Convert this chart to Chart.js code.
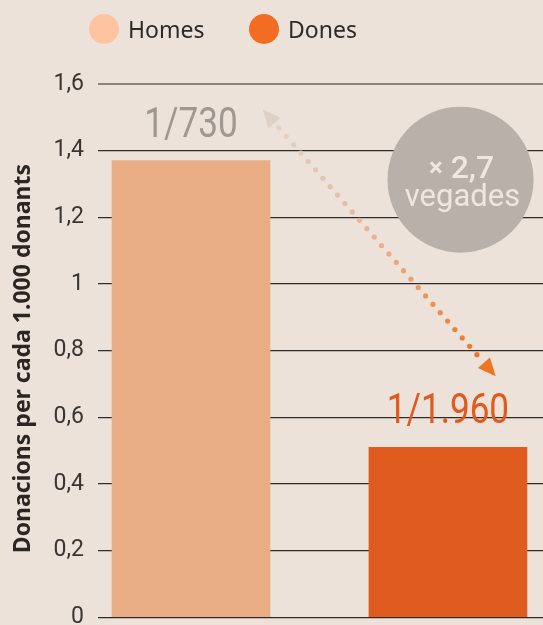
<!DOCTYPE html>
<html>
<head>
<meta charset="utf-8">
<script src="https://cdn.jsdelivr.net/npm/chart.js@4/dist/chart.umd.min.js"></script>
<style>
  html, body { margin: 0; padding: 0; background: #ede2d9; overflow: hidden; width: 543px; height: 625px; }
  #wrap { position: relative; width: 543px; height: 645px; }
  canvas { display: block; }
  #legend { position: absolute; left: 0; top: 0; width: 543px; height: 60px; font-family: 'Noto Sans', sans-serif; font-size: 23px; color: #2d2a28; }
  .item { position: absolute; top: 14px; display: flex; align-items: center; height: 30px; }
  .dot { width: 30px; height: 30px; border-radius: 50%; margin-right: 9px; }
</style>
</head>
<body>
<div id="wrap">
  <canvas id="chart" width="543" height="645"></canvas>
  <div id="legend"></div>
</div>
<script>
// ---- data ----
const categories = ['Homes', 'Dones'];
const donationsPer1000 = [1.37, 0.51];
const ratioLabels = ['1/730', '1/1.960'];
const yTickValues = [0, 0.2, 0.4, 0.6, 0.8, 1, 1.2, 1.4, 1.6];
const yTickLabels = ['0', '0,2', '0,4', '0,6', '0,8', '1', '1,2', '1,4', '1,6'];
const axisTitle = 'Donacions per cada 1.000 donants';
const multiplierLines = ['× 2,7', 'vegades'];

// ---- styles ----
const style = {
  barColors: ['#e9ad86', '#e05c1e'],
  legendColors: ['#fdc49f', '#f26c22'],
  labelColors: ['#9f9791', '#e0591d'],
  legendLeft: [89, 249],
  arrow: { from: { x: 0.279, y: 1.524 }, to: { x: 1.186, y: 0.723 } },
  bubble: { x: 1.049, y: 1.313, r: 73, color: '#b8b0a9', text: '#efe6de' },
  titleShift: 8
};

// HTML legend built from the data
const legendEl = document.getElementById('legend');
categories.forEach((name, i) => {
  const it = document.createElement('div');
  it.className = 'item';
  it.style.left = style.legendLeft[i] + 'px';
  const d = document.createElement('span');
  d.className = 'dot';
  d.style.background = style.legendColors[i];
  const t = document.createElement('span');
  t.textContent = name;
  it.appendChild(d); it.appendChild(t);
  legendEl.appendChild(it);
});

const annotations = {
  id: 'annotations',
  afterDatasetsDraw(chart) {
    const ctx = chart.ctx;
    const xs = chart.scales.x, ys = chart.scales.y;
    ctx.save();
    // value labels above bars (condensed Roboto)
    chart.data.datasets.forEach((ds, i) => {
      const bar = chart.getDatasetMeta(i).data[0];
      ctx.save();
      ctx.translate(bar.x, bar.y - 24);
      ctx.scale(0.835, 1);
      ctx.font = "42px Roboto, sans-serif";
      ctx.fillStyle = style.labelColors[i];
      ctx.textAlign = 'center';
      ctx.textBaseline = 'alphabetic';
      ctx.fillText(ratioLabels[i], 0, 0);
      ctx.restore();
    });
    // dotted arrow
    const p1 = { x: xs.getPixelForValue(style.arrow.from.x), y: ys.getPixelForValue(style.arrow.from.y) };
    const p2 = { x: xs.getPixelForValue(style.arrow.to.x), y: ys.getPixelForValue(style.arrow.to.y) };
    const dx = p2.x - p1.x, dy = p2.y - p1.y;
    const len = Math.hypot(dx, dy);
    const ux = dx / len, uy = dy / len;
    const s = { x: p1.x + ux * 24.6, y: p1.y + uy * 24.6 };
    const e = { x: p2.x - ux * 28.6, y: p2.y - uy * 28.6 };
    const grad = ctx.createLinearGradient(s.x, s.y, e.x, e.y);
    grad.addColorStop(0, '#e2d2c4');
    grad.addColorStop(0.5, '#eab28c');
    grad.addColorStop(1, '#ef7526');
    const segLen = Math.hypot(e.x - s.x, e.y - s.y);
    const n = Math.round(segLen / 11.2);
    ctx.fillStyle = grad;
    for (let k = 0; k <= n; k++) {
      const t = k / n;
      ctx.beginPath();
      ctx.arc(s.x + (e.x - s.x) * t, s.y + (e.y - s.y) * t, 2.6, 0, Math.PI * 2);
      ctx.fill();
    }
    const head = (tip, dirx, diry, color) => {
      const L = 18, W = 8;
      const bx = tip.x - dirx * L, by = tip.y - diry * L;
      ctx.beginPath();
      ctx.moveTo(tip.x, tip.y);
      ctx.lineTo(bx - diry * W, by + dirx * W);
      ctx.lineTo(bx + diry * W, by - dirx * W);
      ctx.closePath();
      ctx.fillStyle = color;
      ctx.fill();
    };
    head(p1, -ux, -uy, '#ddd0c4');
    head(p2, ux, uy, '#ee7424');
    // bubble
    const cx = xs.getPixelForValue(style.bubble.x), cy = ys.getPixelForValue(style.bubble.y);
    ctx.beginPath();
    ctx.arc(cx, cy, style.bubble.r, 0, Math.PI * 2);
    ctx.fillStyle = style.bubble.color;
    ctx.fill();
    ctx.fillStyle = style.bubble.text;
    ctx.textBaseline = 'alphabetic';
    // line 1: "× 2,7"
    const mult = multiplierLines[0].slice(0, 1), num = multiplierLines[0].slice(1);
    ctx.font = "bold 26px Roboto, sans-serif";
    const w1 = ctx.measureText(mult).width;
    ctx.font = "500 32px Roboto, sans-serif";
    const w2 = ctx.measureText(num).width;
    const x0 = cx + 1 - (w1 + w2) / 2;
    ctx.textAlign = 'left';
    ctx.font = "bold 26px Roboto, sans-serif";
    ctx.fillText(mult, x0, cy - 4);
    ctx.font = "500 32px Roboto, sans-serif";
    ctx.fillText(num, x0 + w1, cy - 2);
    ctx.textAlign = 'center';
    ctx.font = "31px Roboto, sans-serif";
    ctx.fillText(multiplierLines[1], cx + 2, cy + 26);
    ctx.restore();
  }
};

new Chart(document.getElementById('chart'), {
  type: 'bar',
  data: {
    datasets: categories.map((name, i) => ({
      label: name,
      data: [{ x: i, y: donationsPer1000[i] }],
      backgroundColor: style.barColors[i],
      barThickness: 158,
      grouped: false
    }))
  },
  options: {
    responsive: false,
    animation: false,
    devicePixelRatio: 1,
    layout: { padding: { top: 84, bottom: 26, left: 0, right: 0 } },
    plugins: { legend: { display: false }, tooltip: { enabled: false } },
    scales: {
      x: { type: 'linear', display: false, offset: false, min: -0.362, max: 1.37 },
      y: {
        min: 0, max: 1.6,
        afterBuildTicks: (sc) => { sc.ticks = yTickValues.map(v => ({ value: v })); },
        afterFit: (sc) => {
          sc.width = 98;
          if (!sc._titleShifted) {
            const orig = sc.drawTitle;
            sc.drawTitle = function () {
              this.ctx.save();
              this.ctx.translate(0, style.titleShift);
              orig.call(this);
              this.ctx.restore();
            };
            sc._titleShifted = true;
          }
        },
        border: { display: false },
        grid: {
          drawTicks: false,
          color: (c) => (c.tick && c.tick.value === 1.6) ? '#8a837e' : '#2f2b28',
          lineWidth: (c) => (c.tick && c.tick.value === 1.6) ? 2 : 1.2
        },
        ticks: {
          padding: 14,
          color: '#3a3532',
          font: { family: 'Roboto, sans-serif', size: 23 },
          callback: (v, i) => yTickLabels[i]
        },
        title: {
          display: true,
          text: axisTitle,
          color: '#2b2623',
          font: { family: "'Noto Sans', sans-serif", size: 23, weight: 'bold' },
          padding: { top: 10, bottom: 0 }
        }
      }
    }
  },
  plugins: [annotations]
});
</script>
</body>
</html>
